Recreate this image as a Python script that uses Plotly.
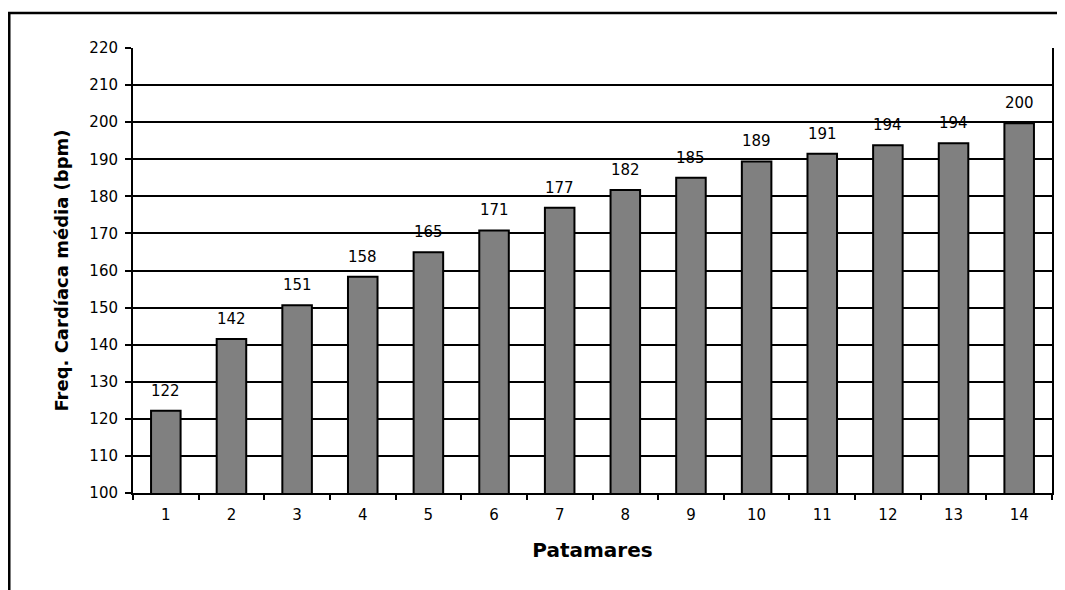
import plotly.graph_objects as go

categories = [str(i) for i in range(1, 15)]
values = [122.2, 141.5, 150.6, 158.3, 164.9, 170.8, 176.9, 181.7, 185.0, 189.4, 191.5, 193.8, 194.3, 199.7]
labels = ["122", "142", "151", "158", "165", "171", "177", "182", "185", "189", "191", "194", "194", "200"]
y_ticks = list(range(100, 221, 10))

FONT = "DejaVu Sans"

fig = go.Figure()
fig.add_trace(go.Bar(
    x=categories, y=values,
    marker=dict(color="#808080", line=dict(color="black", width=2)),
    width=0.45,
    hoverinfo="skip",
))

for i, (v, t) in enumerate(zip(values, labels)):
    fig.add_annotation(x=i, y=v, text=t, showarrow=False, yanchor="bottom",
                       yshift=9, font=dict(family=FONT, size=15, color="black"))

# page body has an 8px margin; the plot div is limited to the body width
W, H = 1049, 582
L, R, T, B = 125, 3, 40, 97
pw, ph = W - L - R, H - T - B

fig.add_shape(type="rect", xref="paper", yref="paper",
              x0=(1 - L) / pw, x1=(W + 10 - L) / pw,
              y0=-0.4, y1=(H - B - 5) / ph,
              line=dict(color="black", width=2.5), fillcolor="rgba(0,0,0,0)", layer="above")

fig.update_layout(
    width=W, height=H,
    margin=dict(l=L, r=R, t=T, b=B),
    paper_bgcolor="white", plot_bgcolor="white",
    showlegend=False,
    font=dict(family=FONT, size=15, color="black"),
    xaxis=dict(
        type="category",
        tickson="boundaries",
        ticks="outside", ticklen=5, tickwidth=2, tickcolor="black",
        showline=True, linecolor="black", linewidth=2,
        showgrid=False,
        tickfont=dict(family=FONT, size=15, color="black"),
        ticklabelstandoff=7,
        title=dict(text="<b>Patamares</b>", standoff=20,
                   font=dict(family=FONT, size=20, color="black")),
    ),
    yaxis=dict(
        range=[100, 220],
        tickvals=y_ticks,
        ticks="outside", ticklen=6, tickwidth=2, tickcolor="black",
        showline=True, linecolor="black", linewidth=2, mirror=True,
        showgrid=True, gridcolor="black", gridwidth=1.5,
        zeroline=False,
        tickfont=dict(family=FONT, size=15, color="black"),
        ticklabelstandoff=4,
        title=dict(text="<b>Freq. Cardíaca média (bpm)</b>", standoff=16,
                   font=dict(family=FONT, size=18, color="black")),
    ),
)

fig.write_html("out.html")
